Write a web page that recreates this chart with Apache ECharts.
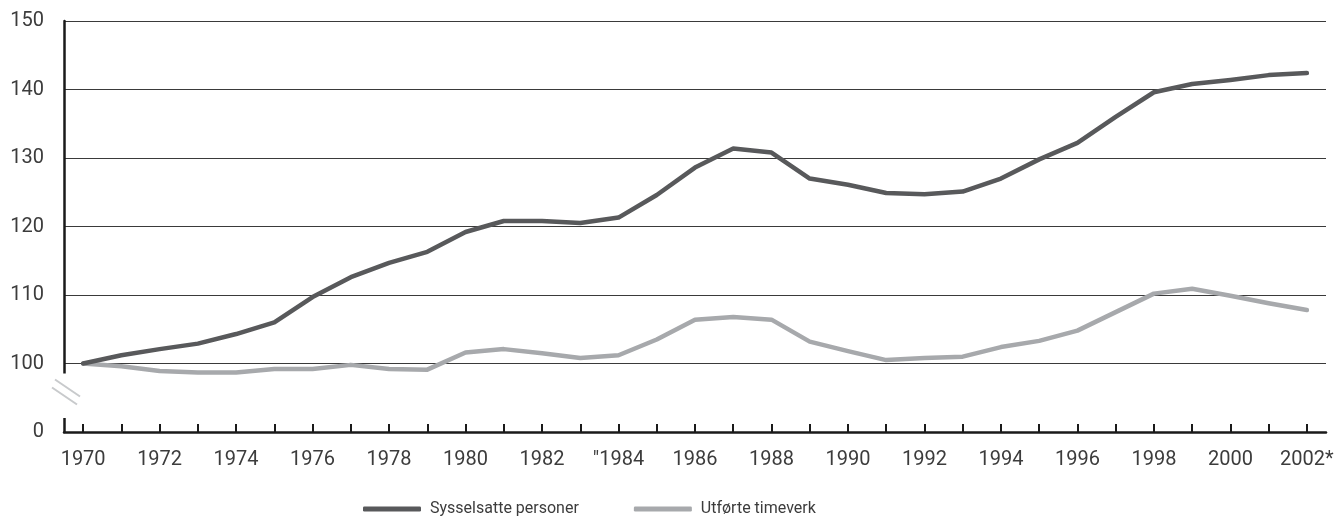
<!DOCTYPE html>
<html>
<head>
<meta charset="utf-8">
<script src="https://cdn.jsdelivr.net/npm/echarts@6/dist/echarts.min.js"></script>
<style>
  html, body { margin: 0; padding: 0; background: #fff; }
  #chart { width: 1341px; height: 532px; }
</style>
</head>
<body>
<div id="chart"></div>
<script>
// years on the x axis (labels as printed in the source)
var years = ['1970','1971','1972','1973','1974','1975','1976','1977','1978','1979',
  '1980','1981','1982','1983','"1984','1985','1986','1987','1988','1989',
  '1990','1991','1992','1993','1994','1995','1996','1997','1998','1999',
  '2000','2001','2002*'];

// index, 1970 = 100
var sysselsatte = [100, 101.2, 102.1, 102.9, 104.3, 106.0, 109.7, 112.6, 114.7, 116.3,
  119.2, 120.8, 120.8, 120.5, 121.3, 124.6, 128.6, 131.4, 130.8, 127.0,
  126.1, 124.9, 124.7, 125.1, 127.0, 129.8, 132.2, 136.0, 139.6, 140.8,
  141.4, 142.1, 142.4];

var timeverk = [100, 99.6, 98.9, 98.7, 98.7, 99.2, 99.2, 99.8, 99.2, 99.1,
  101.6, 102.1, 101.5, 100.8, 101.2, 103.5, 106.4, 106.8, 106.4, 103.2,
  101.8, 100.5, 100.8, 101.0, 102.4, 103.3, 104.8, 107.5, 110.2, 110.9,
  109.9, 108.8, 107.8];

// 90 is drawn as "0" below the axis break
var yTicks = [90, 100, 110, 120, 130, 140, 150];

var darkCol = '#58595b';
var lightCol = '#a7a9ac';
var textCol = '#3c3c3c';
var fontFam = 'Roboto, "Open Sans", sans-serif';

var chart = echarts.init(document.getElementById('chart'));

var option = {
  animation: false,
  backgroundColor: '#fff',
  grid: { left: 64, right: 15, top: 21, bottom: 100 },
  legend: {
    top: 501,
    left: 363,
    padding: 0,
    icon: 'roundRect',
    itemWidth: 58,
    itemHeight: 5,
    itemGap: 55,
    textStyle: { fontFamily: fontFam, fontSize: 16, color: textCol, padding: [0, 0, 0, 4] },
    data: ['Sysselsatte personer', 'Utførte timeverk']
  },
  xAxis: {
    type: 'category',
    data: years,
    boundaryGap: true,
    axisLine: { lineStyle: { color: '#1a1a1a', width: 2.5 } },
    axisTick: { show: true, inside: true, length: 8, alignWithLabel: true, interval: 0,
      lineStyle: { color: '#1a1a1a', width: 2 } },
    axisLabel: { interval: 1, margin: 18, fontFamily: fontFam, fontSize: 20, color: textCol },
    splitLine: { show: false }
  },
  yAxis: {
    type: 'value',
    min: yTicks[0],
    max: yTicks[yTicks.length - 1],
    interval: 10,
    axisLine: { show: true, lineStyle: { color: '#1a1a1a', width: 2.5 } },
    axisTick: { show: false },
    axisLabel: {
      margin: 20, fontFamily: fontFam, fontSize: 20, color: textCol,
      formatter: function (v) { return v === 90 ? '0' : String(v); }
    },
    splitLine: { lineStyle: { color: '#3a3a3a', width: 1.2 } }
  },
  series: [
    {
      name: 'Sysselsatte personer',
      type: 'line',
      data: sysselsatte,
      showSymbol: false,
      z: 4,
      itemStyle: { color: darkCol },
      lineStyle: { color: darkCol, width: 4.5, cap: 'round', join: 'round' }
    },
    {
      name: 'Utførte timeverk',
      type: 'line',
      data: timeverk,
      showSymbol: false,
      z: 3,
      itemStyle: { color: lightCol },
      lineStyle: { color: lightCol, width: 4.5, cap: 'round', join: 'round' }
    }
  ]
};

chart.setOption(option);

// axis break marker between 0 and 100
function drawBreak() {
  var p100 = chart.convertToPixel({ gridIndex: 0 }, [0, 100]);
  var p0 = chart.convertToPixel({ gridIndex: 0 }, [0, 90]);
  var ax = 64;
  var gapTop = p100[1] + 10;
  var gapBot = p0[1] - 14;
  chart.setOption({
    graphic: [
      { type: 'rect', shape: { x: ax - 4, y: gapTop, width: 8, height: gapBot - gapTop },
        style: { fill: '#fff' }, z: 100 },
      { type: 'line', shape: { x1: ax - 12, y1: gapTop + 14, x2: ax + 13, y2: gapTop + 31 },
        style: { stroke: '#c8cacc', lineWidth: 2 }, z: 101 },
      { type: 'line', shape: { x1: ax - 9, y1: gapTop + 6, x2: ax + 16, y2: gapTop + 23 },
        style: { stroke: '#c8cacc', lineWidth: 2 }, z: 101 }
    ]
  });
}
drawBreak();
</script>
</body>
</html>
